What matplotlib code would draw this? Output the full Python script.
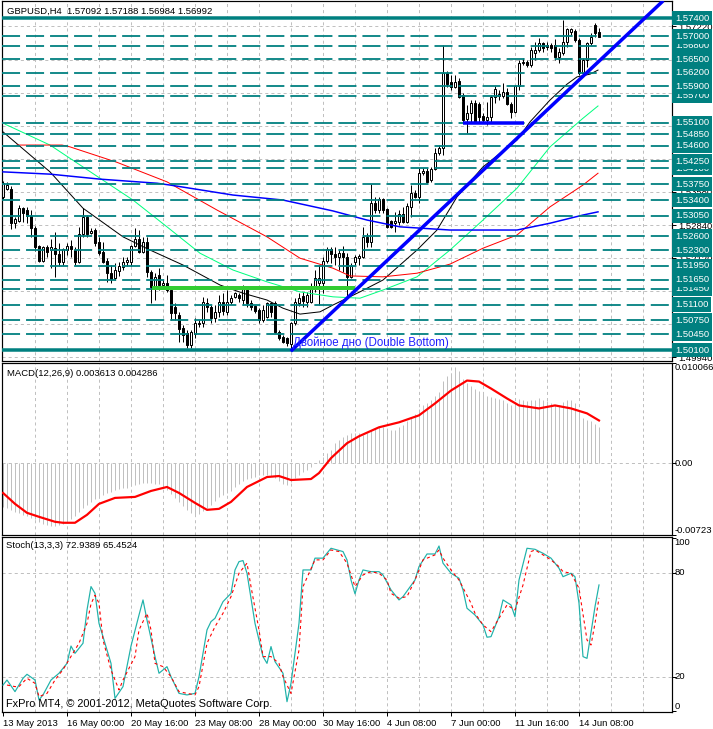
import matplotlib
matplotlib.use("Agg")
import matplotlib.pyplot as plt
import numpy as np

plt.rcParams['font.family'] = ['Liberation Sans', 'DejaVu Sans']
plt.rcParams['lines.scale_dashes'] = False

W, H, DPI = 713, 729, 100
PX = 72.0 / DPI  # points per pixel

# ---------------- data ----------------
opens = [1.5347, 1.5364, 1.5364, 1.5289, 1.5294, 1.5322, 1.5318, 1.5305, 1.5278, 1.5239,
         1.5206, 1.5237, 1.5230, 1.5234, 1.5221, 1.5204, 1.5230, 1.5239, 1.5230, 1.5204,
         1.5265, 1.5303, 1.5267, 1.5274, 1.5248, 1.5226, 1.5206, 1.5179, 1.5168, 1.5184,
         1.5193, 1.5204, 1.5204, 1.5239, 1.5254, 1.5226, 1.5248, 1.5182, 1.5149, 1.5175,
         1.5153, 1.5157, 1.5142, 1.5105, 1.5087, 1.5058, 1.5047, 1.5021, 1.5045, 1.5067,
         1.5069, 1.5113, 1.5105, 1.5080, 1.5094, 1.5116, 1.5094, 1.5116, 1.5127, 1.5131,
         1.5120, 1.5142, 1.5113, 1.5107, 1.5098, 1.5076, 1.5083, 1.5113, 1.5113, 1.5050,
         1.5039, 1.5036, 1.5023, 1.5069, 1.5113, 1.5129, 1.5116, 1.5116, 1.5146, 1.5157,
         1.5157, 1.5206, 1.5232, 1.5221, 1.5215, 1.5223, 1.5215, 1.5171, 1.5204, 1.5212,
         1.5215, 1.5259, 1.5248, 1.5333, 1.5318, 1.5342, 1.5320, 1.5294, 1.5289, 1.5292,
         1.5309, 1.5292, 1.5325, 1.5355, 1.5347, 1.5399, 1.5404, 1.5384, 1.5408, 1.5443,
         1.5454, 1.5619, 1.5600, 1.5589, 1.5602, 1.5571, 1.5518, 1.5531, 1.5553, 1.5551,
         1.5525, 1.5516, 1.5523, 1.5567, 1.5569, 1.5569, 1.5578, 1.5551, 1.5534, 1.5591,
         1.5641, 1.5644, 1.5637, 1.5663, 1.5670, 1.5685, 1.5681, 1.5681, 1.5681, 1.5655,
         1.5663, 1.5688, 1.5709, 1.5712, 1.5692, 1.5619, 1.5648, 1.5685, 1.5725, 1.57092]
highs = [1.5382, 1.5380, 1.5371, 1.5303, 1.5329, 1.5325, 1.5325, 1.5318, 1.5283, 1.5241,
         1.5239, 1.5241, 1.5254, 1.5270, 1.5245, 1.5234, 1.5245, 1.5252, 1.5237, 1.5281,
         1.5322, 1.5307, 1.5278, 1.5278, 1.5259, 1.5248, 1.5212, 1.5197, 1.5201, 1.5204,
         1.5215, 1.5215, 1.5241, 1.5278, 1.5274, 1.5259, 1.5259, 1.5186, 1.5179, 1.5190,
         1.5164, 1.5175, 1.5146, 1.5113, 1.5094, 1.5065, 1.5054, 1.5054, 1.5080, 1.5076,
         1.5127, 1.5124, 1.5109, 1.5109, 1.5131, 1.5135, 1.5142, 1.5131, 1.5138, 1.5135,
         1.5153, 1.5146, 1.5120, 1.5109, 1.5102, 1.5109, 1.5116, 1.5116, 1.5118, 1.5054,
         1.5043, 1.5039, 1.5072, 1.5124, 1.5135, 1.5138, 1.5138, 1.5157, 1.5186, 1.5197,
         1.5215, 1.5237, 1.5237, 1.5237, 1.5230, 1.5239, 1.5223, 1.5201, 1.5219, 1.5221,
         1.5281, 1.5267, 1.5375, 1.5347, 1.5347, 1.5344, 1.5322, 1.5296, 1.5314, 1.5318,
         1.5325, 1.5333, 1.5373, 1.5362, 1.5410, 1.5410, 1.5410, 1.5413, 1.5454, 1.5461,
         1.5681, 1.5624, 1.5615, 1.5615, 1.5608, 1.5575, 1.5549, 1.5560, 1.5560, 1.5556,
         1.5531, 1.5556, 1.5571, 1.5591, 1.5582, 1.5597, 1.5586, 1.5556, 1.5593, 1.5648,
         1.5652, 1.5648, 1.5677, 1.5688, 1.5696, 1.5688, 1.5688, 1.5685, 1.5694, 1.5674,
         1.5736, 1.5718, 1.5718, 1.5716, 1.5696, 1.5652, 1.5688, 1.5707, 1.5729, 1.57188]
lows = [1.5342, 1.5362, 1.5276, 1.5278, 1.5292, 1.5292, 1.5289, 1.5259, 1.5228, 1.5204,
        1.5204, 1.5215, 1.5190, 1.5171, 1.5195, 1.5197, 1.5219, 1.5215, 1.5197, 1.5201,
        1.5259, 1.5259, 1.5265, 1.5239, 1.5219, 1.5201, 1.5160, 1.5157, 1.5164, 1.5173,
        1.5186, 1.5195, 1.5195, 1.5237, 1.5223, 1.5223, 1.5171, 1.5113, 1.5120, 1.5142,
        1.5149, 1.5138, 1.5076, 1.5076, 1.5028, 1.5028, 1.5014, 1.5014, 1.5036, 1.5061,
        1.5061, 1.5094, 1.5069, 1.5071, 1.5083, 1.5087, 1.5087, 1.5111, 1.5124, 1.5116,
        1.5109, 1.5105, 1.5098, 1.5091, 1.5069, 1.5071, 1.5080, 1.5083, 1.5047, 1.5032,
        1.5025, 1.5019, 1.5010, 1.5065, 1.5107, 1.5105, 1.5105, 1.5113, 1.5138, 1.5109,
        1.5135, 1.5201, 1.5201, 1.5197, 1.5186, 1.5182, 1.5127, 1.5168, 1.5197, 1.5197,
        1.5212, 1.5237, 1.5237, 1.5311, 1.5311, 1.5311, 1.5278, 1.5278, 1.5270, 1.5285,
        1.5289, 1.5289, 1.5303, 1.5344, 1.5333, 1.5395, 1.5377, 1.5380, 1.5406, 1.5439,
        1.5439, 1.5589, 1.5582, 1.5586, 1.5564, 1.5509, 1.5487, 1.5512, 1.5509, 1.5512,
        1.5512, 1.5505, 1.5509, 1.5553, 1.5560, 1.5564, 1.5549, 1.5520, 1.5531, 1.5582,
        1.5637, 1.5633, 1.5633, 1.5648, 1.5666, 1.5666, 1.5670, 1.5666, 1.5648, 1.5641,
        1.5659, 1.5677, 1.5703, 1.5688, 1.5615, 1.5615, 1.5633, 1.5681, 1.5699, 1.56984]
closes = [1.5377, 1.5373, 1.5289, 1.5298, 1.5322, 1.5311, 1.5305, 1.5278, 1.5237, 1.5206,
          1.5237, 1.5226, 1.5237, 1.5221, 1.5204, 1.5232, 1.5239, 1.5232, 1.5204, 1.5265,
          1.5303, 1.5265, 1.5272, 1.5245, 1.5223, 1.5204, 1.5179, 1.5166, 1.5186, 1.5195,
          1.5204, 1.5208, 1.5239, 1.5254, 1.5226, 1.5248, 1.5182, 1.5149, 1.5171, 1.5153,
          1.5157, 1.5142, 1.5091, 1.5091, 1.5056, 1.5043, 1.5021, 1.5050, 1.5069, 1.5069,
          1.5116, 1.5105, 1.5080, 1.5093, 1.5116, 1.5096, 1.5116, 1.5124, 1.5135, 1.5124,
          1.5144, 1.5113, 1.5105, 1.5096, 1.5076, 1.5098, 1.5113, 1.5094, 1.5050, 1.5036,
          1.5028, 1.5025, 1.5069, 1.5116, 1.5124, 1.5118, 1.5131, 1.5149, 1.5168, 1.5168,
          1.5206, 1.5232, 1.5221, 1.5215, 1.5223, 1.5215, 1.5171, 1.5195, 1.5215, 1.5217,
          1.5259, 1.5248, 1.5333, 1.5318, 1.5342, 1.5318, 1.5281, 1.5281, 1.5294, 1.5309,
          1.5292, 1.5327, 1.5355, 1.5347, 1.5399, 1.5404, 1.5380, 1.5408, 1.5443, 1.5454,
          1.5619, 1.5595, 1.5589, 1.5600, 1.5567, 1.5516, 1.5531, 1.5553, 1.5512, 1.5523,
          1.5516, 1.5523, 1.5567, 1.5584, 1.5573, 1.5578, 1.5551, 1.5534, 1.5591, 1.5641,
          1.5644, 1.5637, 1.5670, 1.5670, 1.5685, 1.5674, 1.5677, 1.5674, 1.5655, 1.5666,
          1.5688, 1.5716, 1.5716, 1.5692, 1.5619, 1.5648, 1.5685, 1.5699, 1.5707, 1.56992]

# moving averages (bar position, price)
ma_black_x = [0, 11.75, 20, 30, 36.75, 45, 54.25, 60, 66, 70, 74.25, 79.25, 82.5, 89.25, 95,
              103.5, 108.5, 113.5, 120, 128.5, 131.75, 136.75, 141, 143.5, 146.75, 148.75]
ma_black_y = [1.5490, 1.5402, 1.5322, 1.5259, 1.5230, 1.5197, 1.5153, 1.5135, 1.5120, 1.5102,
              1.5089, 1.5094, 1.5109, 1.5138, 1.5164, 1.5230, 1.5274, 1.5347, 1.5413, 1.5472,
              1.5512, 1.5560, 1.5595, 1.5611, 1.5617, 1.5626]
ma_lime_x = [0.5, 11.75, 24.25, 32.5, 41, 49.25, 57.5, 66, 74.25, 82.5, 89.25, 95, 103.5,
             111.75, 120, 128.5, 136.75, 145, 148.75]
ma_lime_y = [1.5507, 1.5461, 1.5388, 1.5340, 1.5281, 1.5223, 1.5186, 1.5160, 1.5138, 1.5127,
             1.5124, 1.5142, 1.5171, 1.5230, 1.5296, 1.5366, 1.5457, 1.5520, 1.5547]
ma_red_x = [3.5, 14.75, 16.75, 28.5, 41, 53.5, 66, 74.25, 82.5, 86.75, 95, 103.5, 111.75,
            120, 128.5, 136.75, 145, 148.75]
ma_red_y = [1.5461, 1.5461, 1.5457, 1.5423, 1.5380, 1.5318, 1.5259, 1.5212, 1.5190, 1.5173,
            1.5171, 1.5179, 1.5199, 1.5234, 1.5263, 1.5325, 1.5373, 1.5399]
ma_blue_x = [0, 11.75, 24.25, 38.5, 41.75, 57.5, 70, 82.5, 91, 99.25, 111.75, 128.5, 136.75,
             145, 148.75]
ma_blue_y = [1.5402, 1.5397, 1.5386, 1.5377, 1.5373, 1.5351, 1.5340, 1.5316, 1.5296, 1.5281,
             1.5274, 1.5274, 1.5289, 1.5307, 1.5314]

# horizontal levels drawn on the chart
levels = [1.5700, 1.5680, 1.5650, 1.5620, 1.5590, 1.5570, 1.5510, 1.5485, 1.5460, 1.5425,
          1.5410, 1.5375, 1.5340, 1.5305, 1.5260, 1.5230, 1.5195, 1.5165, 1.5145, 1.5110,
          1.5075, 1.5045]
solid_levels = [1.5740, 1.5010]
price_grid = [1.4994, 1.5068, 1.5140, 1.5212, 1.5284, 1.5358, 1.5430, 1.5503, 1.5576,
              1.5649, 1.5722]

# drawn objects
trend_x = [72.25, 164.75]
trend_y = [1.5010, 1.5776]
support_x = [115, 130.25]
support_y = [1.5509, 1.5509]
neck_x = [37.25, 88]
neck_y = [1.5147, 1.5147]
pattern_label = "Двойное дно (Double Bottom)"
pattern_pos = (72.5, 1.50255)

# MACD(12,26,9)
macd = [-0.0044, -0.0045, -0.0047, -0.0049, -0.0050, -0.0052, -0.0053, -0.0055, -0.0056, -0.0059,
        -0.0061, -0.0062, -0.0063, -0.0063, -0.0062, -0.0061, -0.0059, -0.0056, -0.0053, -0.0049,
        -0.0045, -0.0042, -0.0039, -0.0036, -0.0034, -0.0032, -0.0030, -0.0029, -0.0027, -0.0026,
        -0.0025, -0.0025, -0.0023, -0.0022, -0.0021, -0.0020, -0.0020, -0.0020, -0.0021, -0.0021,
        -0.0024, -0.0027, -0.0031, -0.0035, -0.0039, -0.0043, -0.0047, -0.0050, -0.0052, -0.0051,
        -0.0048, -0.0045, -0.0042, -0.0038, -0.0034, -0.0032, -0.0030, -0.0028, -0.0024, -0.0021,
        -0.0018, -0.0016, -0.0015, -0.0014, -0.0012, -0.0012, -0.0012, -0.0013, -0.0015, -0.0018,
        -0.0021, -0.0022, -0.0019, -0.0015, -0.0012, -0.0009, -0.0007, -0.0004, 0.0000, 0.0003,
        0.0006, 0.0010, 0.0013, 0.0020, 0.0023, 0.0026, 0.0028, 0.0030, 0.0030, 0.0030,
        0.0028, 0.0030, 0.0033, 0.0035, 0.0036, 0.0036, 0.0034, 0.0033, 0.0033, 0.0036,
        0.0038, 0.0042, 0.0046, 0.0049, 0.0054, 0.0058, 0.0060, 0.0063, 0.0067, 0.0071,
        0.0083, 0.0088, 0.0091, 0.0097, 0.0093, 0.0085, 0.0081, 0.0078, 0.0075, 0.0073,
        0.0069, 0.0067, 0.0066, 0.0065, 0.0064, 0.0063, 0.0060, 0.0058, 0.0061, 0.0064,
        0.0063, 0.0062, 0.0063, 0.0063, 0.0065, 0.0063, 0.0062, 0.0060, 0.0058, 0.0058,
        0.0061, 0.0063, 0.0063, 0.0060, 0.0051, 0.0045, 0.0043, 0.0042, 0.0039, 0.003613]
signal_x = [0, 3, 6, 9, 13, 15, 18, 21, 24, 28, 33, 37, 41, 44, 48, 51, 54, 57, 61, 66, 69,
            72, 77, 79, 82, 86, 89, 94, 99, 104, 108, 112, 116, 119, 122, 126, 129, 134, 138,
            142, 146, 149]
signal_y = [-0.0030, -0.0041, -0.0050, -0.0054, -0.0059, -0.0060, -0.0060, -0.0052, -0.0041,
            -0.0035, -0.0034, -0.0028, -0.0024, -0.0030, -0.0040, -0.0047, -0.0046, -0.0039,
            -0.0024, -0.0014, -0.0013, -0.0017, -0.0016, -0.0010, 0.0005, 0.0020, 0.0027,
            0.0036, 0.0041, 0.0048, 0.0060, 0.0073, 0.0083, 0.0082, 0.0075, 0.0065, 0.0058,
            0.0055, 0.0058, 0.0055, 0.0050, 0.004286]

# Stochastic(13,3,3)
stoch_x = [0, 1, 3, 5, 6, 8, 9, 10, 12, 14, 16, 17, 18, 20, 21, 22, 23, 24, 27, 28, 30, 32,
           34, 35, 36, 38, 39, 40, 41, 42, 44, 46, 48, 49, 51, 52, 53, 55, 57, 58, 59, 60,
           61, 63, 65, 66, 67, 68, 70, 71, 72, 74, 75, 77, 78, 80, 82, 85, 86, 87, 88, 89,
           90, 92, 94, 95, 97, 99, 100, 103, 104, 106, 108, 109, 110, 112, 114, 115, 116,
           118, 120, 121, 122, 124, 125, 127, 128, 129, 131, 133, 135, 137, 139, 140, 142,
           143, 144, 145, 146, 148, 149]
stoch_y = [15.2, 18.1, 11.4, 19.1, 21.4, 18.1, 6.6, 9.5, 18.1, 22.0, 27.7, 37.7, 33.5, 39.3,
           58.5, 72.0, 68.1, 50.8, 27.7, 7.5, 14.3, 37.7, 55.6, 64.3, 52.7, 31.6, 22.0, 23.9,
           25.8, 20.0, 10.4, 9.5, 10.4, 20.0, 47.0, 51.8, 53.7, 63.3, 68.1, 81.6, 86.4, 87.0,
           79.7, 50.8, 31.6, 27.7, 37.4, 28.7, 22.0, 5.6, 16.2, 50.8, 81.6, 81.6, 88.4, 88.4,
           94.1, 92.2, 87.4, 75.8, 67.8, 75.8, 81.6, 80.6, 80.6, 78.7, 70.1, 64.3, 66.2, 75.8,
           83.5, 90.8, 90.8, 95.4, 85.5, 79.7, 76.8, 70.1, 59.5, 55.6, 49.9, 42.8, 43.1, 54.6,
           64.3, 61.4, 54.6, 75.8, 94.1, 93.5, 91.2, 88.4, 82.6, 77.7, 79.7, 77.7, 62.4, 31.6,
           30.6, 60.4, 72.9389]
stsig_x = [1, 3, 4, 6, 8, 9, 11, 13, 15, 17, 19, 21, 22, 23, 24, 25, 27, 29, 30, 33, 34, 36,
           37, 38, 40, 42, 44, 46, 48, 49, 51, 53, 55, 57, 59, 61, 62, 64, 65, 67, 69, 70, 72,
           74, 75, 78, 80, 82, 84, 86, 88, 90, 92, 94, 96, 97, 99, 101, 103, 105, 108, 109,
           110, 112, 114, 117, 118, 120, 122, 124, 126, 128, 130, 132, 133, 135, 137, 139,
           140, 142, 144, 146, 147, 148, 149]
stsig_y = [15.2, 14.3, 14.3, 19.1, 16.2, 8.5, 10.4, 18.1, 24.1, 31.7, 39.3, 50.8, 62.0, 67.0,
           62.4, 41.2, 23.9, 12.4, 18.1, 31.6, 47.0, 56.6, 47.0, 27.7, 25.8, 20.0, 11.4, 10.4,
           9.5, 14.3, 39.3, 48.9, 56.6, 66.2, 79.7, 85.5, 72.0, 47.0, 31.6, 31.6, 27.7, 20.0,
           10.4, 35.4, 72.0, 87.4, 87.4, 93.1, 92.2, 85.5, 72.0, 78.7, 80.6, 79.7, 75.8, 68.1,
           65.3, 66.2, 75.8, 87.4, 90.3, 93.1, 88.4, 81.6, 75.8, 62.4, 56.6, 49.9, 46.0, 53.7,
           61.4, 58.5, 72.9, 92.2, 93.1, 90.3, 87.4, 83.5, 80.6, 79.7, 71.0, 41.2, 38.3, 50.8,
           65.4524]

x_tick_bars = [0, 16, 32, 48, 64, 80, 96, 112, 128, 144]
x_tick_labels = ["13 May 2013", "16 May 00:00", "20 May 16:00", "23 May 08:00",
                 "28 May 00:00", "30 May 16:00", "4 Jun 08:00", "7 Jun 00:00",
                 "11 Jun 16:00", "14 Jun 08:00"]

title_main = "GBPUSD,H4  1.57092 1.57188 1.56984 1.56992"
title_macd = "MACD(12,26,9) 0.003613 0.004286"
title_stoch = "Stoch(13,3,3) 72.9389 65.4524"
copyright_txt = "FxPro MT4, © 2001-2012, MetaQuotes Software Corp."

# ---------------- figure ----------------
fig = plt.figure(figsize=(W / DPI, H / DPI), dpi=DPI)
fig.patch.set_facecolor('white')


def add_panel(top, bottom):
    return fig.add_axes([2 / W, 1 - bottom / H, 670 / W, (bottom - top) / H])


ax1 = add_panel(1, 361)
ax2 = add_panel(363, 535)
ax3 = add_panel(537, 712)

TEAL = '#008080'
GRIDC = '#C0C0C0'
FS = 6.8
grid_style = dict(color=GRIDC, lw=PX, ls=(0, (2.2, 2.2)), zorder=0.5)

for ax in (ax1, ax2, ax3):
    ax.set_xlim(-0.25, 167.25)
    ax.set_facecolor('white')
    for s in ax.spines.values():
        s.set_color('black')
        s.set_linewidth(PX * 1.2)
    for gx in range(8, 167, 8):
        ax.axvline(gx, **grid_style)
    ax.yaxis.tick_right()
    ax.tick_params(axis='y', direction='out', length=3 * PX * 1.4, width=PX,
                   pad=1.5, labelsize=FS, colors='black')
    ax.tick_params(axis='x', direction='out', length=3, width=PX, labelsize=FS, pad=2)

# ---- main price panel ----
ax1.set_ylim(1.49858, 1.5778)
for gy in price_grid:
    ax1.axhline(gy, **grid_style)
ax1.set_yticks(price_grid)
ax1.set_yticklabels([f"{v:.5f}" for v in price_grid])
ax1.set_xticks([])

xb = np.arange(len(opens))
o = np.array(opens); h = np.array(highs); l = np.array(lows); c = np.array(closes)
ax1.vlines(xb, l, h, color='black', lw=PX, zorder=2)
fill = ['white' if cc >= oo else 'black' for oo, cc in zip(o, c)]
ax1.bar(xb, c - o, bottom=o, width=0.6, color=fill, edgecolor='black',
        linewidth=PX, zorder=2.2)

ax1.plot(ma_black_x, ma_black_y, color='black', lw=PX, zorder=3)
ax1.plot(ma_lime_x, ma_lime_y, color='#00FF7F', lw=PX, zorder=3)
ax1.plot(ma_red_x, ma_red_y, color='#FF0000', lw=PX, zorder=3)
ax1.plot(ma_blue_x, ma_blue_y, color='#0000FF', lw=PX * 1.5, zorder=3)

for lv in levels:
    ax1.axhline(lv, color=TEAL, lw=PX * 1.8, ls=(0, (13.0, 4.3)), zorder=4)
for lv in solid_levels:
    ax1.axhline(lv, color=TEAL, lw=PX * 3.5, zorder=4)

ax1.plot(neck_x, neck_y, color='#32CD32', lw=PX * 4, zorder=5, solid_capstyle='butt')
ax1.plot(support_x, support_y, color='#0000FF', lw=PX * 3.5, zorder=5, solid_capstyle='butt')
ax1.plot(trend_x, trend_y, color='#0000FF', lw=PX * 3.5, zorder=5)
ax1.text(pattern_pos[0], pattern_pos[1], pattern_label, color='#2020FF', fontsize=8.3,
         ha='left', va='center', zorder=6)

for lv in sorted(levels + solid_levels):
    ax1.text(1.0045, lv, f"{lv:.5f}", transform=ax1.get_yaxis_transform(),
             color='white', fontsize=FS, ha='left', va='center', clip_on=False, zorder=10,
             bbox=dict(facecolor=TEAL, edgecolor='none', boxstyle='square,pad=0.28'))

ax1.text(0.008, 0.985, title_main, transform=ax1.transAxes, fontsize=FS,
         ha='left', va='top', color='black', zorder=11)

# ---- MACD panel ----
ax2.set_ylim(-0.00723, 0.010066)
ax2.axhline(0, **grid_style)
ax2.vlines(xb, 0, macd, color=GRIDC, lw=PX, zorder=2)
ax2.plot(signal_x, signal_y, color='#FF0000', lw=PX * 2.2, zorder=3)
ax2.set_yticks([-0.00723, 0, 0.010066])
ax2.set_yticklabels([])
ax2.set_xticks([])
tr2 = ax2.get_yaxis_transform()
ax2.text(1.004, 0.010066, "0.010066", transform=tr2, fontsize=FS, va='top', ha='left',
         clip_on=False)
ax2.text(1.004, 0.0, "0.00", transform=tr2, fontsize=FS, va='center', ha='left',
         clip_on=False)
ax2.text(1.004, -0.00723, "-0.00723", transform=tr2, fontsize=FS, va='bottom', ha='left',
         clip_on=False)
ax2.text(0.008, 0.965, title_macd, transform=ax2.transAxes, fontsize=FS,
         ha='left', va='top', color='black')

# ---- Stochastic panel ----
ax3.set_ylim(-0.35, 100.6)
for gy in (20, 80):
    ax3.axhline(gy, **grid_style)
ax3.plot(stoch_x, stoch_y, color='#20B2AA', lw=PX * 1.2, zorder=3)
ax3.plot(stsig_x, stsig_y, color='#FF0000', lw=PX * 1.1, ls=(0, (2.2, 2.2)), zorder=3)
ax3.set_yticks([0, 20, 80, 100])
ax3.set_yticklabels([])
tr3 = ax3.get_yaxis_transform()
ax3.text(1.004, 100, "100", transform=tr3, fontsize=FS, va='top', ha='left', clip_on=False)
ax3.text(1.004, 80, "80", transform=tr3, fontsize=FS, va='center', ha='left', clip_on=False)
ax3.text(1.004, 20, "20", transform=tr3, fontsize=FS, va='center', ha='left', clip_on=False)
ax3.text(1.004, 0, "0", transform=tr3, fontsize=FS, va='bottom', ha='left', clip_on=False)
ax3.text(0.006, 0.975, title_stoch, transform=ax3.transAxes, fontsize=FS,
         ha='left', va='top', color='black')
ax3.text(0.006, 0.015, copyright_txt, transform=ax3.transAxes, fontsize=7.9,
         ha='left', va='bottom', color='black')

ax3.set_xticks(x_tick_bars)
ax3.set_xticklabels(x_tick_labels)
for lab in ax3.get_xticklabels():
    lab.set_horizontalalignment('left')

fig.savefig("out.png", dpi=DPI, facecolor='white')
